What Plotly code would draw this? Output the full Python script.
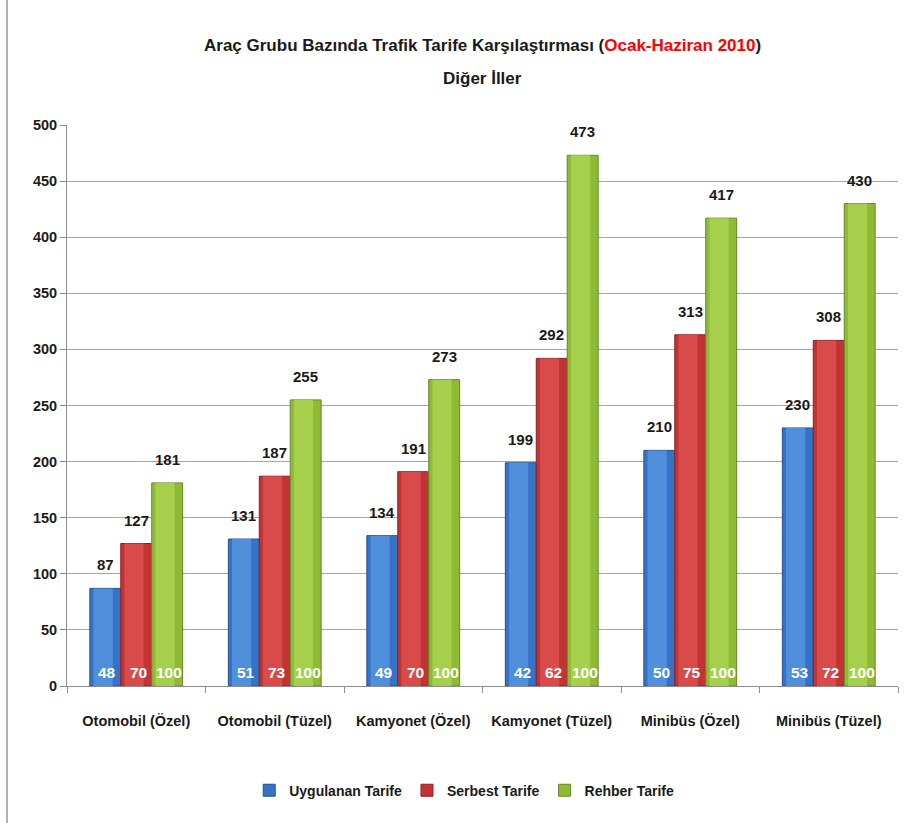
import plotly.graph_objects as go

categories = ["Otomobil (Özel)", "Otomobil (Tüzel)", "Kamyonet (Özel)",
              "Kamyonet (Tüzel)", "Minibüs (Özel)", "Minibüs (Tüzel)"]
series_names = ["Uygulanan Tarife", "Serbest Tarife", "Rehber Tarife"]
uygulanan = [87, 131, 134, 199, 210, 230]
serbest = [127, 187, 191, 292, 313, 308]
rehber = [181, 255, 273, 473, 417, 430]
uygulanan_pct = [48, 51, 49, 42, 50, 53]
serbest_pct = [70, 73, 70, 62, 75, 72]
rehber_pct = [100, 100, 100, 100, 100, 100]
y_ticks = [0, 50, 100, 150, 200, 250, 300, 350, 400, 450, 500]

FONT = "Liberation Sans, Arial, sans-serif"
INK = "#1a1a1a"
fills = ["#3673c6", "#c23434", "#8fba36"]
shines = ["#4f8fdc", "#d94b4b", "#a6cf4c"]
edges = ["#244f8f", "#8a2020", "#67862a"]

values = [uygulanan, serbest, rehber]
pcts = [uygulanan_pct, serbest_pct, rehber_pct]

BARGAP = 0.33
bar_w = (1 - BARGAP) / 3

fig = go.Figure()
for k in range(3):
    off = -1.5 * bar_w + k * bar_w
    # main bar body
    fig.add_trace(go.Bar(
        name=series_names[k], x=categories, y=values[k],
        width=bar_w, offset=off,
        marker=dict(color=fills[k], line=dict(color=edges[k], width=1)),
        hoverinfo="skip",
    ))
    # lighter inner strip for a rounded, shaded look
    fig.add_trace(go.Bar(
        x=categories, y=values[k], width=bar_w * 0.62, offset=off + bar_w * 0.12,
        marker=dict(color=shines[k], line=dict(width=0)),
        showlegend=False, hoverinfo="skip",
    ))

annotations = []
for k in range(3):
    center = -bar_w + k * bar_w
    for i, v in enumerate(values[k]):
        # value above the bar
        annotations.append(dict(
            x=i + center, y=v, xref="x", yref="y", text=str(v), showarrow=False,
            yanchor="bottom", yshift=13,
            font=dict(family=FONT, size=15, color=INK, weight="bold"),
        ))
        # share label at the foot of the bar
        annotations.append(dict(
            x=i + center, y=0, xref="x", yref="y", text=str(pcts[k][i]),
            showarrow=False, yanchor="bottom", yshift=3, xshift=2,
            font=dict(family=FONT, size=15.5, color="white", weight="bold"),
        ))

# two-line heading
annotations.append(dict(
    x=0.5, y=(686 - 45) / 561, xref="paper", yref="paper", showarrow=False,
    xanchor="center", yanchor="middle",
    text="Araç Grubu Bazında Trafik Tarife Karşılaştırması "
         "(<span style='color:#ff0000'>Ocak-Haziran 2010</span>)",
    font=dict(family=FONT, size=17, color=INK, weight="bold"),
))
annotations.append(dict(
    x=0.5, y=(686 - 78) / 561, xref="paper", yref="paper", showarrow=False,
    xanchor="center", yanchor="middle", text="Diğer İller",
    font=dict(family=FONT, size=17, color=INK, weight="bold"),
))

fig.update_layout(
    width=908, height=823,
    paper_bgcolor="white", plot_bgcolor="white",
    margin=dict(l=67, r=10, t=125, b=137),
    barmode="overlay",
    font=dict(family=FONT, color=INK),
    showlegend=True,
    legend=dict(
        orientation="h", x=0.478, xanchor="center", y=-0.158, yanchor="top",
        font=dict(family=FONT, size=14, color=INK, weight="bold"),
        itemwidth=30, traceorder="normal",
    ),
    annotations=annotations,
    shapes=[dict(type="line", xref="paper", yref="paper",
                 x0=-60 / 831, x1=-60 / 831, y0=-137 / 561, y1=1 + 125 / 561,
                 line=dict(color="#b0b0b0", width=2))],
)
fig.update_xaxes(
    type="category", showline=True, linecolor="#8c8c8c", linewidth=1,
    ticks="outside", tickson="boundaries", ticklen=6, tickcolor="#8c8c8c",
    tickangle=0, automargin=False, ticklabelstandoff=22,
    tickfont=dict(family=FONT, size=14.5, color=INK, weight="bold"),
    showgrid=False, range=[-0.5, 5.5],
)
fig.update_yaxes(
    range=[0, 500], tickvals=y_ticks, showgrid=True, gridcolor="#a6a6a6",
    gridwidth=1, showline=True, linecolor="#8c8c8c", linewidth=1,
    ticks="outside", ticklen=6, tickcolor="#8c8c8c", zeroline=False,
    automargin=False,
    tickfont=dict(family=FONT, size=14.5, color=INK, weight="bold"),
)

fig.write_html("out.html")
